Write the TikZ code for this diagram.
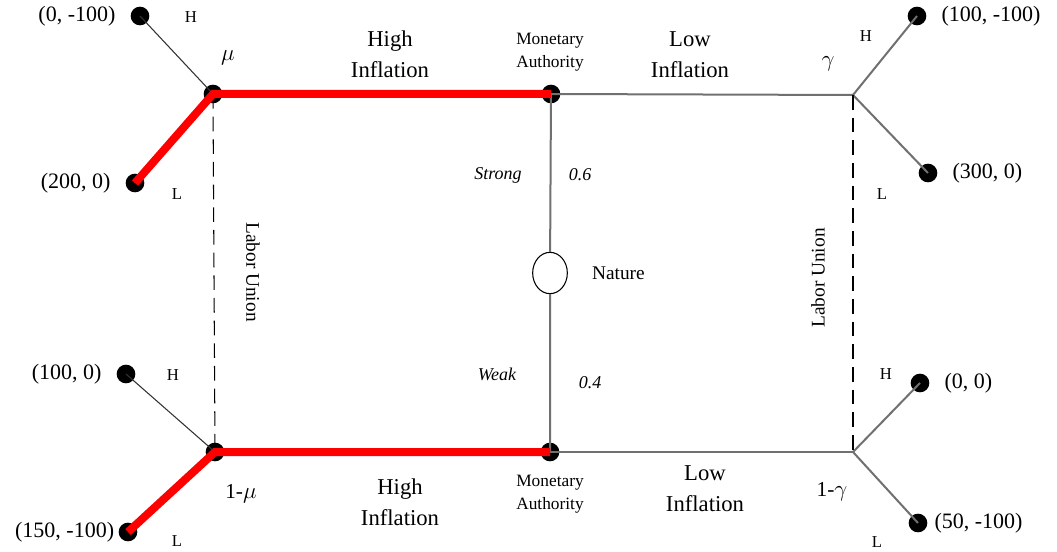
\documentclass[tikz,border=0pt]{standalone}
\usepackage{fontspec}
\setmainfont{Liberation Serif}
\usetikzlibrary{positioning,shapes.geometric}
\definecolor{tgray}{HTML}{707070}
\definecolor{tred}{HTML}{FF0000}
\tikzset{
  dot/.style={circle,fill=black,inner sep=0pt,minimum size=14pt},
  chance/.style={ellipse,draw=black,fill=white,line width=0.8pt,inner sep=0pt,minimum width=26pt,minimum height=31pt},
  path/.style={line width=6pt,draw=tred},
  move/.style={line width=1.5pt,draw=tgray},
  leaf/.style={line width=0.8pt,draw=black!80},
  info/.style={dashed,dash pattern=on 11pt off 6pt,line width=0.8pt,draw=black},
  big/.style={font=\fontsize{17}{23}\selectfont,align=center,inner sep=0pt},
  pay/.style={font=\fontsize{16.5}{20}\selectfont,inner sep=0pt},
  small/.style={font=\fontsize{12.5}{14}\selectfont,inner sep=0pt},
  who/.style={font=\fontsize{13}{17.5}\selectfont,align=center,inner sep=0pt},
  side/.style={font=\fontsize{14.5}{17}\selectfont,inner sep=0pt},
  prob/.style={font=\fontsize{13.5}{15}\selectfont\itshape,inner sep=0pt},
  greek/.style={font=\fontsize{16}{18}\selectfont,inner sep=0pt},
}
\begin{document}
\begin{tikzpicture}[x=0.75pt,y=-0.75pt]
  \useasboundingbox (0,0) rectangle (1057,552);
  % decision nodes
  \node[dot] (ma1) at (551,94) {};
  \node[dot] (ma2) at (550,452) {};
  \node[chance] (nat) at (550,273) {};
  \node[dot] (mu1) at (213,94) {};
  \node[dot] (mu2) at (215,452) {};
  \coordinate (ga1) at (853,95);
  \coordinate (ga2) at (853,452);
  % terminal nodes
  \node[dot] (t1) at (140,16) {};
  \node[dot] (t2) at (135,183) {};
  \node[dot] (t3) at (126,374) {};
  \node[dot] (t4) at (128,532) {};
  \node[dot] (t5) at (917,16) {};
  \node[dot] (t6) at (928,173) {};
  \node[dot] (t7) at (920,383) {};
  \node[dot] (t8) at (918,523) {};
  % branches
  \draw[move] (ma1.center) -- (nat) -- (ma2.center);
  \draw[move] (ma1.center) -- (ga1); \draw[move] (ma2.center) -- (ga2);
  \draw[move] (ga1) -- (t5.center); \draw[move] (ga1) -- (t6.center);
  \draw[move] (ga2) -- (t7.center); \draw[move] (ga2) -- (t8.center);
  \draw[leaf] (mu1.center) -- (t1.center); \draw[leaf] (mu2.center) -- (t3.center);
  \draw[info] (mu1.center) -- (mu2.center); \draw[info] (ga1) -- (ga2);
  \draw[path] (t2.center) -- (mu1.center) -- (ma1.center);
  \draw[path] (t4.center) -- (mu2.center) -- (ma2.center);
  % labels
  \node[big] (hi1) at (390,54) {High\\Inflation};
  \node[big] (lo1) at (690,55) {Low\\Inflation};
  \node[big] (hi2) at (400,502) {High\\Inflation};
  \node[big] (lo2) at (705,489) {Low\\Inflation};
  \node[who] (w1) at (550,52) {Monetary\\Authority};
  \node[who] (w2) at (550,494) {Monetary\\Authority};
  \node[side,right=18pt of nat] (nl) {Nature};
  \node[prob] (s1) at (498,175) {Strong};
  \node[prob] (s2) at (580,175) {0.6};
  \node[prob] (s3) at (497,374) {Weak};
  \node[prob] (s4) at (590,383) {0.4};
  \node[side,rotate=-90] (lu1) at (253,272) {Labor Union};
  \node[side,rotate=90] (lu2) at (818,278) {Labor Union};
  \node[greek] (g1) at (228,58) {$\mu$};
  \node[greek] (g2) at (241,494) {1-$\mu$};
  \node[greek] (g3) at (828,64) {$\gamma$};
  \node[greek] (g4) at (832,492) {1-$\gamma$};
  \node[small] (h1) at (191,17) {H};
  \node[small] (l1) at (177,194) {L};
  \node[small] (h2) at (173,375) {H};
  \node[small] (l2) at (177,541) {L};
  \node[small] (h3) at (866,36) {H};
  \node[small] (l3) at (882,194) {L};
  \node[small] (h4) at (886,374) {H};
  \node[small] (l4) at (877,542) {L};
  \node[pay,left=11pt of t1] (p1) {(0, -100)};
  \node[pay,left=11pt of t2] (p2) {(200, 0)};
  \node[pay,left=11pt of t3] (p3) {(100, 0)};
  \node[pay,left=3pt of t4] (p4) {(150, -100)};
  \node[pay,right=11pt of t5] (p5) {(100, -100)};
  \node[pay,right=11pt of t6] (p6) {(300, 0)};
  \node[pay,right=11pt of t7] (p7) {(0, 0)};
  \node[pay,right=5pt of t8] (p8) {(50, -100)};
\end{tikzpicture}
\end{document}
